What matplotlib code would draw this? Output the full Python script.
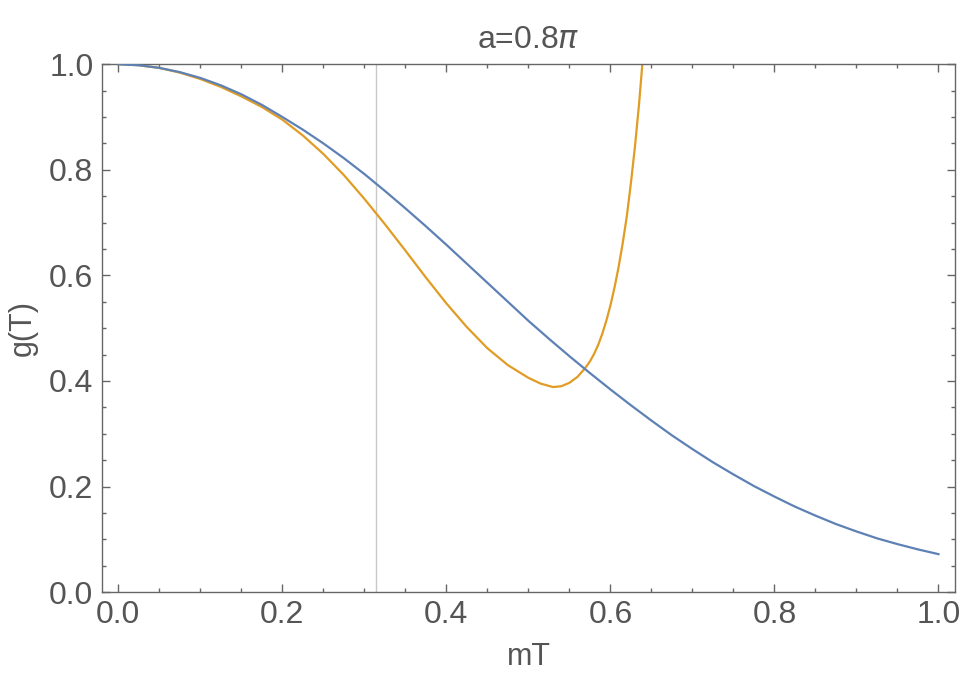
import matplotlib
matplotlib.use("Agg")
import matplotlib.pyplot as plt
from matplotlib.ticker import MultipleLocator

plt.rcParams['font.family'] = ['Liberation Sans', 'DejaVu Sans']

# --- data ---
blue_x = [0.0, 0.025, 0.05, 0.075, 0.10, 0.125, 0.15, 0.175, 0.20, 0.225,
          0.25, 0.275, 0.30, 0.325, 0.35, 0.375, 0.40, 0.425, 0.45, 0.475,
          0.50, 0.525, 0.55, 0.575, 0.60, 0.625, 0.65, 0.675, 0.70, 0.725,
          0.75, 0.775, 0.80, 0.825, 0.85, 0.875, 0.90, 0.925, 0.95, 0.975, 1.0]
blue_y = [1.000, 0.998, 0.993, 0.985, 0.974, 0.960, 0.943, 0.923, 0.900, 0.876,
          0.850, 0.822, 0.792, 0.760, 0.727, 0.693, 0.658, 0.622, 0.586, 0.550,
          0.514, 0.480, 0.447, 0.415, 0.384, 0.354, 0.325, 0.297, 0.271, 0.246,
          0.223, 0.201, 0.181, 0.162, 0.145, 0.129, 0.115, 0.102, 0.091, 0.081, 0.072]

orange_x = [0.0, 0.025, 0.05, 0.075, 0.10, 0.125, 0.15, 0.175, 0.20, 0.225,
            0.25, 0.275, 0.30, 0.325, 0.35, 0.375, 0.40, 0.425, 0.45, 0.475,
            0.50, 0.515, 0.53, 0.54, 0.55, 0.56, 0.569, 0.575, 0.58, 0.585,
            0.59, 0.595, 0.60, 0.605, 0.61, 0.615, 0.62, 0.625, 0.63, 0.635,
            0.64, 0.645]
orange_y = [1.000, 0.998, 0.993, 0.984, 0.972, 0.957, 0.939, 0.919, 0.895, 0.865,
            0.830, 0.790, 0.745, 0.697, 0.647, 0.596, 0.547, 0.502, 0.462, 0.430,
            0.406, 0.395, 0.3885, 0.390, 0.3965, 0.408, 0.424, 0.437, 0.451, 0.468,
            0.489, 0.514, 0.543, 0.577, 0.616, 0.661, 0.712, 0.775, 0.845, 0.926,
            1.020, 1.120]

marker_x = 0.3142  # thin gray vertical line

x_ticks = [0.0, 0.2, 0.4, 0.6, 0.8, 1.0]
y_ticks = [0.0, 0.2, 0.4, 0.6, 0.8, 1.0]

# --- figure ---
fig = plt.figure(figsize=(9.6, 6.83), dpi=100)
ax = fig.add_axes([0.106, 0.133, 0.889, 0.773])

ax.axvline(marker_x, color='#c8c8c8', lw=1.0, zorder=1)
ax.plot(blue_x, blue_y, color='#5e81b5', lw=1.6, zorder=3, solid_joinstyle='round')
ax.plot(orange_x, orange_y, color='#e19c24', lw=1.6, zorder=2, solid_joinstyle='round')

ax.set_xlim(-0.0202, 1.0204)
ax.set_ylim(0.0, 1.0)

text_col = '#555555'
frame_col = '#666666'
for sp in ax.spines.values():
    sp.set_color(frame_col)
    sp.set_linewidth(1.0)

ax.set_xticks(x_ticks)
ax.set_yticks(y_ticks)
ax.set_xticklabels([f'{v:.1f}' for v in x_ticks])
ax.set_yticklabels([f'{v:.1f}' for v in y_ticks])
ax.xaxis.set_minor_locator(MultipleLocator(0.05))
ax.yaxis.set_minor_locator(MultipleLocator(0.05))
ax.tick_params(which='both', direction='in', top=True, right=True,
               color=frame_col, width=1.0, labelsize=23, labelcolor=text_col)
ax.tick_params(which='major', length=5.5, pad=6)
ax.tick_params(which='minor', length=3)

ax.set_title('a=0.8$\\pi$', fontsize=23, color=text_col, pad=12)
ax.set_xlabel('mT', fontsize=22, color=text_col, labelpad=8)
ax.set_ylabel('g(T)', fontsize=22, color=text_col, labelpad=8)

fig.savefig('out.png', dpi=100)
